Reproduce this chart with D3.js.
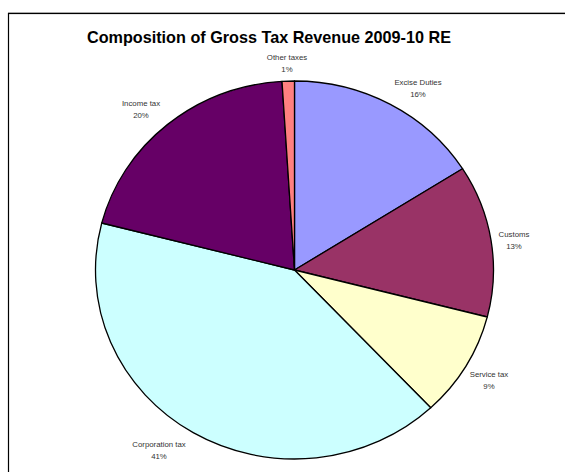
<!DOCTYPE html>
<html>
<head>
<meta charset="utf-8">
<script src="https://cdn.jsdelivr.net/npm/d3@7"></script>
<style>
  html, body { margin: 0; padding: 0; background: #fff; }
  svg { display: block; }
</style>
</head>
<body>
<svg id="chart" width="565" height="472"></svg>
<script>
// Gross tax revenue shares, clockwise from 12 o'clock
const categories = ["Excise Duties", "Customs", "Service tax", "Corporation tax", "Income tax", "Other taxes"];
const shares = [16, 13, 9, 41, 20, 1];
const colors = ["#9999FF", "#993366", "#FFFFCC", "#CCFFFF", "#660066", "#FF8080"];
// label anchor positions (centre of the two-line label)
const labelPos = [[418, 88], [514, 240], [489, 380], [159, 450], [141, 109], [287, 63]];

const svg = d3.select("#chart");

// chart frame
svg.append("rect")
  .attr("x", 8.5).attr("y", 13.5)
  .attr("width", 600).attr("height", 500)
  .attr("fill", "none").attr("stroke", "#000").attr("stroke-width", 1.2);
svg.append("line")
  .attr("x1", 8).attr("x2", 565).attr("y1", 12.5).attr("y2", 12.5)
  .attr("stroke", "#aaa").attr("stroke-width", 1);

svg.append("text")
  .attr("x", 269).attr("y", 43)
  .attr("text-anchor", "middle")
  .attr("font-family", "Liberation Sans, Arial, sans-serif")
  .attr("font-weight", "bold")
  .attr("font-size", 16.2)
  .attr("fill", "#000")
  .text("Composition of Gross Tax Revenue 2009-10 RE");

const cx = 294.5, cy = 270, rx = 199, ry = 189;

const pie = d3.pie().sort(null).value(d => d.v);
const arcs = pie(categories.map((c, i) => ({ c, v: shares[i], i })));
const arc = d3.arc().innerRadius(0).outerRadius(rx);

const g = svg.append("g")
  .attr("transform", `translate(${cx},${cy}) scale(1,${ry / rx})`);

g.selectAll("path")
  .data(arcs)
  .join("path")
  .attr("d", arc)
  .attr("fill", d => colors[d.data.i])
  .attr("stroke", "#000")
  .attr("stroke-width", 1.3)
  .attr("vector-effect", "non-scaling-stroke")
  .attr("stroke-linejoin", "round");

const labels = svg.append("g")
  .attr("font-family", "Liberation Sans, Arial, sans-serif")
  .attr("font-size", 7.8)
  .attr("fill", "#333")
  .attr("text-anchor", "middle");

arcs.forEach(d => {
  const [lx, ly] = labelPos[d.data.i];
  const t = labels.append("text").attr("x", lx).attr("y", ly);
  t.append("tspan").attr("x", lx).attr("dy", -3).text(d.data.c);
  t.append("tspan").attr("x", lx).attr("dy", 12).text(d.data.v + "%");
});
</script>
</body>
</html>
